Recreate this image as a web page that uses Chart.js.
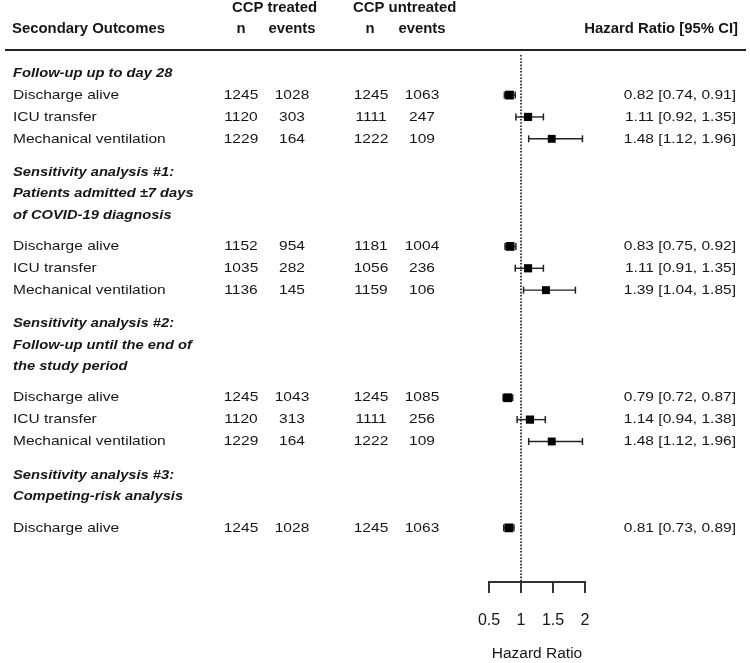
<!DOCTYPE html>
<html>
<head>
<meta charset="utf-8">
<title>Secondary Outcomes - Hazard Ratio</title>
<script src="https://cdn.jsdelivr.net/npm/chart.js@4.4.0/dist/chart.umd.min.js"></script>
<style>
  html, body { margin: 0; padding: 0; background: #fff; }
  #wrap { width: 750px; height: 663px; }
</style>
</head>
<body>
<div id="wrap"><canvas id="forest" width="750" height="663"></canvas></div>
<script>
// ---- Data ----
const sectionTitles = [
    ['Follow-up up to day 28'],
    ['Sensitivity analysis #1:', 'Patients admitted \u00b17 days', 'of COVID-19 diagnosis'],
    ['Sensitivity analysis #2:', 'Follow-up until the end of', 'the study period'],
    ['Sensitivity analysis #3:', 'Competing-risk analysis']
];
const rowSection = [0, 0, 0, 1, 1, 1, 2, 2, 2, 3];
const rowOutcome = [
    'Discharge alive', 'ICU transfer', 'Mechanical ventilation',
    'Discharge alive', 'ICU transfer', 'Mechanical ventilation',
    'Discharge alive', 'ICU transfer', 'Mechanical ventilation',
    'Discharge alive'
];
const treatedN        = [1245, 1120, 1229, 1152, 1035, 1136, 1245, 1120, 1229, 1245];
const treatedEvents   = [1028,  303,  164,  954,  282,  145, 1043,  313,  164, 1028];
const untreatedN      = [1245, 1111, 1222, 1181, 1056, 1159, 1245, 1111, 1222, 1245];
const untreatedEvents = [1063,  247,  109, 1004,  236,  106, 1085,  256,  109, 1063];
const hazardRatio     = [0.82, 1.11, 1.48, 0.83, 1.11, 1.39, 0.79, 1.14, 1.48, 0.81];
const ciLower         = [0.74, 0.92, 1.12, 0.75, 0.91, 1.04, 0.72, 0.94, 1.12, 0.73];
const ciUpper         = [0.91, 1.35, 1.96, 0.92, 1.35, 1.85, 0.87, 1.38, 1.96, 0.89];
const xTicks = [0.5, 1, 1.5, 2];

// ---- Layout / style ----
const FONT = "'Liberation Sans', Arial, sans-serif";
const INK = '#161616';
const LINE = 21.65;      // px per text line
const ROW0 = 73;         // pixel y of the first text line
const TOP = 52;          // chart area top
const BOTTOM = 582;      // chart area bottom (axis line)
const STRETCH = 1.15;    // body text is horizontally stretched in the original
const boxRadius = { 'Discharge alive': 6.2, 'ICU transfer': 5.8, 'Mechanical ventilation': 5.6 };

// Work out line positions (in "line" units) for headers and rows
function buildLayout() {
    const headers = [];
    const rows = [];
    let pos = 0;
    let r = 0;
    sectionTitles.forEach(function(lines, s) {
        if (s > 0) pos += 1.55;
        lines.forEach(function(txt, i) {
            if (i > 0) pos += 0.98;
            headers.push({ text: txt, pos: pos });
        });
        pos += lines.length > 1 ? 1.46 : 1.02;
        let first = true;
        while (r < rowSection.length && rowSection[r] === s) {
            if (!first) pos += 1.01;
            rows.push(pos);
            first = false;
            r++;
        }
    });
    return { headers: headers, rows: rows };
}
const layout = buildLayout();

// Draw text with optional horizontal stretch
function drawText(ctx, str, x, y, font, align, sx) {
    ctx.save();
    ctx.font = font;
    ctx.fillStyle = INK;
    ctx.textAlign = align;
    ctx.textBaseline = 'middle';
    ctx.translate(x, y);
    ctx.scale(sx || 1, 1);
    ctx.fillText(str, 0, 0);
    ctx.restore();
}

// Table text, header rule and reference line
const tablePlugin = {
    id: 'forestTable',
    beforeDatasetsDraw: function(chart) {
        const ctx = chart.ctx;
        const x1 = chart.scales.x.getPixelForValue(1);
        ctx.save();
        ctx.strokeStyle = '#111';
        ctx.lineWidth = 1.6;
        ctx.setLineDash([1.6, 1.6]);
        ctx.beginPath();
        ctx.moveTo(x1, 55);
        ctx.lineTo(x1, chart.chartArea.bottom);
        ctx.stroke();
        ctx.restore();
    },
    afterDraw: function(chart) {
        const ctx = chart.ctx;
        const y = chart.scales.y;
        const headFont = 'bold 15.5px ' + FONT;
        const bodyFont = '13.5px ' + FONT;
        const sectFont = 'italic bold 13.5px ' + FONT;
        const headSx = 0.96;

        // Column headers
        drawText(ctx, 'CCP treated', 232, 8, headFont, 'left', headSx);
        drawText(ctx, 'CCP untreated', 353, 8, headFont, 'left', headSx);
        drawText(ctx, 'Secondary Outcomes', 12, 29, headFont, 'left', headSx);
        drawText(ctx, 'n', 241, 29, headFont, 'center', headSx);
        drawText(ctx, 'events', 292, 29, headFont, 'center', headSx);
        drawText(ctx, 'n', 370, 29, headFont, 'center', headSx);
        drawText(ctx, 'events', 422, 29, headFont, 'center', headSx);
        drawText(ctx, 'Hazard Ratio [95% CI]', 738, 29, headFont, 'right', headSx);

        // Header rule
        ctx.save();
        ctx.strokeStyle = '#222';
        ctx.lineWidth = 2;
        ctx.beginPath();
        ctx.moveTo(5, 50);
        ctx.lineTo(746, 50);
        ctx.stroke();
        ctx.restore();

        // Section titles
        layout.headers.forEach(function(h) {
            drawText(ctx, h.text, 13, y.getPixelForValue(h.pos), sectFont, 'left', 1.09);
        });

        // Rows
        layout.rows.forEach(function(pos, i) {
            const py = y.getPixelForValue(pos);
            drawText(ctx, rowOutcome[i], 13, py, bodyFont, 'left', STRETCH);
            drawText(ctx, String(treatedN[i]), 241, py, bodyFont, 'center', STRETCH);
            drawText(ctx, String(treatedEvents[i]), 292, py, bodyFont, 'center', STRETCH);
            drawText(ctx, String(untreatedN[i]), 371, py, bodyFont, 'center', STRETCH);
            drawText(ctx, String(untreatedEvents[i]), 422, py, bodyFont, 'center', STRETCH);
            const hrText = hazardRatio[i].toFixed(2) + ' [' + ciLower[i].toFixed(2) + ', ' + ciUpper[i].toFixed(2) + ']';
            drawText(ctx, hrText, 736, py, bodyFont, 'right', STRETCH);
        });
    }
};

// Build datasets: one whisker line per row, plus the point estimates
function buildDatasets() {
    const sets = [{
        label: 'Hazard ratio',
        data: hazardRatio.map(function(v, i) { return { x: v, y: layout.rows[i] }; }),
        pointStyle: 'rect',
        pointRadius: function(c) { return boxRadius[rowOutcome[c.dataIndex]] || 5; },
        backgroundColor: '#000',
        borderColor: '#000',
        borderWidth: 0,
        order: 0
    }];
    hazardRatio.forEach(function(v, i) {
        sets.push({
            label: 'CI ' + i,
            data: [{ x: ciLower[i], y: layout.rows[i] }, { x: ciUpper[i], y: layout.rows[i] }],
            showLine: true,
            borderColor: '#222',
            borderWidth: 1.4,
            pointStyle: 'line',
            rotation: 90,
            pointRadius: 3.5,
            pointBorderWidth: 1.5,
            pointBorderColor: '#222',
            order: 1
        });
    });
    return sets;
}

const yMin = (TOP - ROW0) / LINE;
const yMax = (BOTTOM - ROW0) / LINE;

new Chart(document.getElementById('forest').getContext('2d'), {
    type: 'scatter',
    data: { datasets: buildDatasets() },
    options: {
        responsive: false,
        animation: false,
        layout: { padding: { left: 489, right: 165, top: TOP, bottom: 0 } },
        plugins: {
            legend: { display: false },
            tooltip: { enabled: false }
        },
        scales: {
            x: {
                type: 'linear',
                min: 0.5,
                max: 2,
                afterBuildTicks: function(scale) {
                    scale.ticks = xTicks.map(function(v) { return { value: v }; });
                },
                afterFit: function(scale) { scale.height = 663 - BOTTOM; },
                border: { display: true, color: '#333', width: 2 },
                grid: { drawOnChartArea: false, drawTicks: true, tickLength: 11, color: '#333', lineWidth: 2 },
                ticks: {
                    color: INK,
                    padding: 18,
                    font: { family: FONT, size: 16 },
                    callback: function(v) { return String(v); }
                },
                title: {
                    display: true,
                    text: 'Hazard Ratio',
                    color: INK,
                    padding: 0,
                    font: { family: FONT, size: 15.5 }
                }
            },
            y: {
                type: 'linear',
                display: false,
                reverse: true,
                min: yMin,
                max: yMax
            }
        }
    },
    plugins: [tablePlugin]
});
</script>
</body>
</html>
